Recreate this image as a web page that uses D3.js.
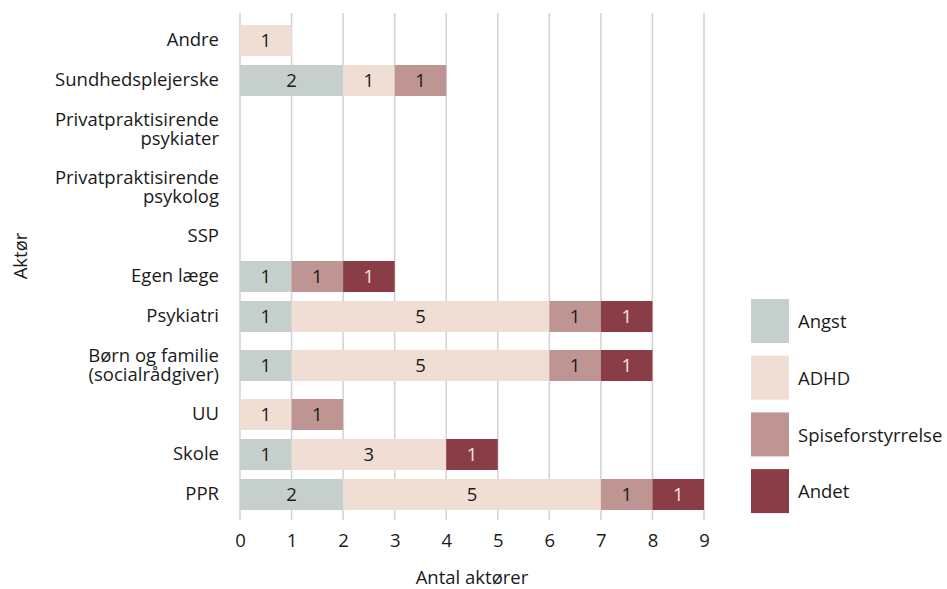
<!DOCTYPE html>
<html>
<head>
<meta charset="utf-8">
<script src="https://cdn.jsdelivr.net/npm/d3@7"></script>
<style>
  body { margin: 0; background: #fff; }
  svg { display: block; }
  text { font-family: "Open Sans", "Noto Sans", sans-serif; fill: #1a1a1a; }
</style>
</head>
<body>
<svg id="chart" width="947" height="589"></svg>
<script>
// Actors (y categories), line breaks mark wrapped labels
const categories = [
  "Andre",
  "Sundhedsplejerske",
  "Privatpraktisirende\npsykiater",
  "Privatpraktisirende\npsykolog",
  "SSP",
  "Egen læge",
  "Psykiatri",
  "Børn og familie\n(socialrådgiver)",
  "UU",
  "Skole",
  "PPR"
];
const seriesNames = ["Angst", "ADHD", "Spiseforstyrrelse", "Andet"];
const angst = [0, 2, 0, 0, 0, 1, 1, 1, 0, 1, 2];
const adhd  = [1, 1, 0, 0, 0, 0, 5, 5, 1, 3, 5];
const spise = [0, 1, 0, 0, 0, 1, 1, 1, 1, 0, 1];
const andet = [0, 0, 0, 0, 0, 1, 1, 1, 0, 1, 1];
const xTicks = [0, 1, 2, 3, 4, 5, 6, 7, 8, 9];
const colors = ["#c5cfcb", "#f0ded4", "#be9592", "#8a3d47"];
const labelColors = ["#1a1a1a", "#1a1a1a", "#1a1a1a", "#f3e4dd"];

const table = categories.map((c, i) => ({
  cat: c,
  Angst: angst[i], ADHD: adhd[i], Spiseforstyrrelse: spise[i], Andet: andet[i]
}));

const svg = d3.select("#chart");
const fontSize = 18.5;
const fontFamily = "'Open Sans', 'Noto Sans', sans-serif";

// Horizontal scale
const x = d3.scaleLinear().domain([0, 9]).range([240, 704]);

// Rows with wrapped labels take more vertical room
const rowUnits = categories.map(c => c.split("\n").length > 1 ? 1.45 : 1);
const rowStart = [];
let acc = 0;
rowUnits.forEach(u => { rowStart.push(acc); acc += u; });
const y = d3.scaleLinear().domain([0, acc]).range([20.5, 514.5]);
const rowCenter = i => y(rowStart[i] + rowUnits[i] / 2);
const barH = y(0.775) - y(0);

// Gridlines
svg.append("g").selectAll("line").data(xTicks).join("line")
  .attr("x1", d => x(d)).attr("x2", d => x(d))
  .attr("y1", 13).attr("y2", 520)
  .attr("stroke", "#d2d2d2").attr("stroke-width", 1.5);

// Stacked bars
const stack = d3.stack().keys(seriesNames)(table);
const layers = svg.append("g").selectAll("g").data(stack).join("g")
  .attr("fill", (d, i) => colors[i]);
layers.selectAll("rect").data(d => d.map((s, i) => ({ s, i })).filter(o => o.s[1] > o.s[0]))
  .join("rect")
  .attr("x", o => x(o.s[0]))
  .attr("width", o => x(o.s[1]) - x(o.s[0]))
  .attr("y", o => rowCenter(o.i) - barH / 2)
  .attr("height", barH);

// Value labels
stack.forEach((layer, k) => {
  svg.append("g").selectAll("text")
    .data(layer.map((s, i) => ({ s, i })).filter(o => o.s[1] > o.s[0]))
    .join("text")
    .attr("x", o => x((o.s[0] + o.s[1]) / 2))
    .attr("y", o => rowCenter(o.i))
    .attr("dy", "0.34em")
    .attr("text-anchor", "middle")
    .style("font-size", fontSize + "px")
    .style("fill", labelColors[k])
    .text(o => o.s[1] - o.s[0]);
});

// Category labels
const lineH = 18.5;
const catG = svg.append("g");
categories.forEach((c, i) => {
  const lines = c.split("\n");
  const t = catG.append("text")
    .attr("text-anchor", "end")
    .style("font-size", fontSize + "px");
  lines.forEach((ln, j) => {
    t.append("tspan")
      .attr("x", 219)
      .attr("y", rowCenter(i) + (j - (lines.length - 1) / 2) * lineH)
      .attr("dy", "0.32em")
      .text(ln);
  });
});

// X axis tick labels
const xAxis = d3.axisBottom(x).tickValues(xTicks).tickSize(0).tickPadding(0);
const axG = svg.append("g").attr("transform", "translate(0,541)").call(xAxis);
axG.select(".domain").remove();
axG.selectAll("text")
  .attr("y", 0).attr("dy", "0.34em")
  .style("font-size", fontSize + "px")
  .style("font-family", fontFamily)
  .style("fill", "#1a1a1a");

// Axis titles
svg.append("text")
  .attr("x", 472).attr("y", 578).attr("dy", "0.34em")
  .attr("text-anchor", "middle")
  .style("font-size", fontSize + "px")
  .text("Antal aktører");
svg.append("text")
  .attr("transform", "translate(21,256) rotate(-90)")
  .attr("dy", "0.34em")
  .attr("text-anchor", "middle")
  .style("font-size", fontSize + "px")
  .text("Aktør");

// Legend
const legend = svg.append("g").selectAll("g").data(seriesNames).join("g")
  .attr("transform", (d, i) => `translate(751,${299 + i * 56.7})`);
legend.append("rect")
  .attr("width", 38).attr("height", 44)
  .attr("fill", (d, i) => colors[i]);
legend.append("text")
  .attr("x", 47).attr("y", 23).attr("dy", "0.34em")
  .style("font-size", fontSize + "px")
  .text(d => d);
</script>
</body>
</html>
